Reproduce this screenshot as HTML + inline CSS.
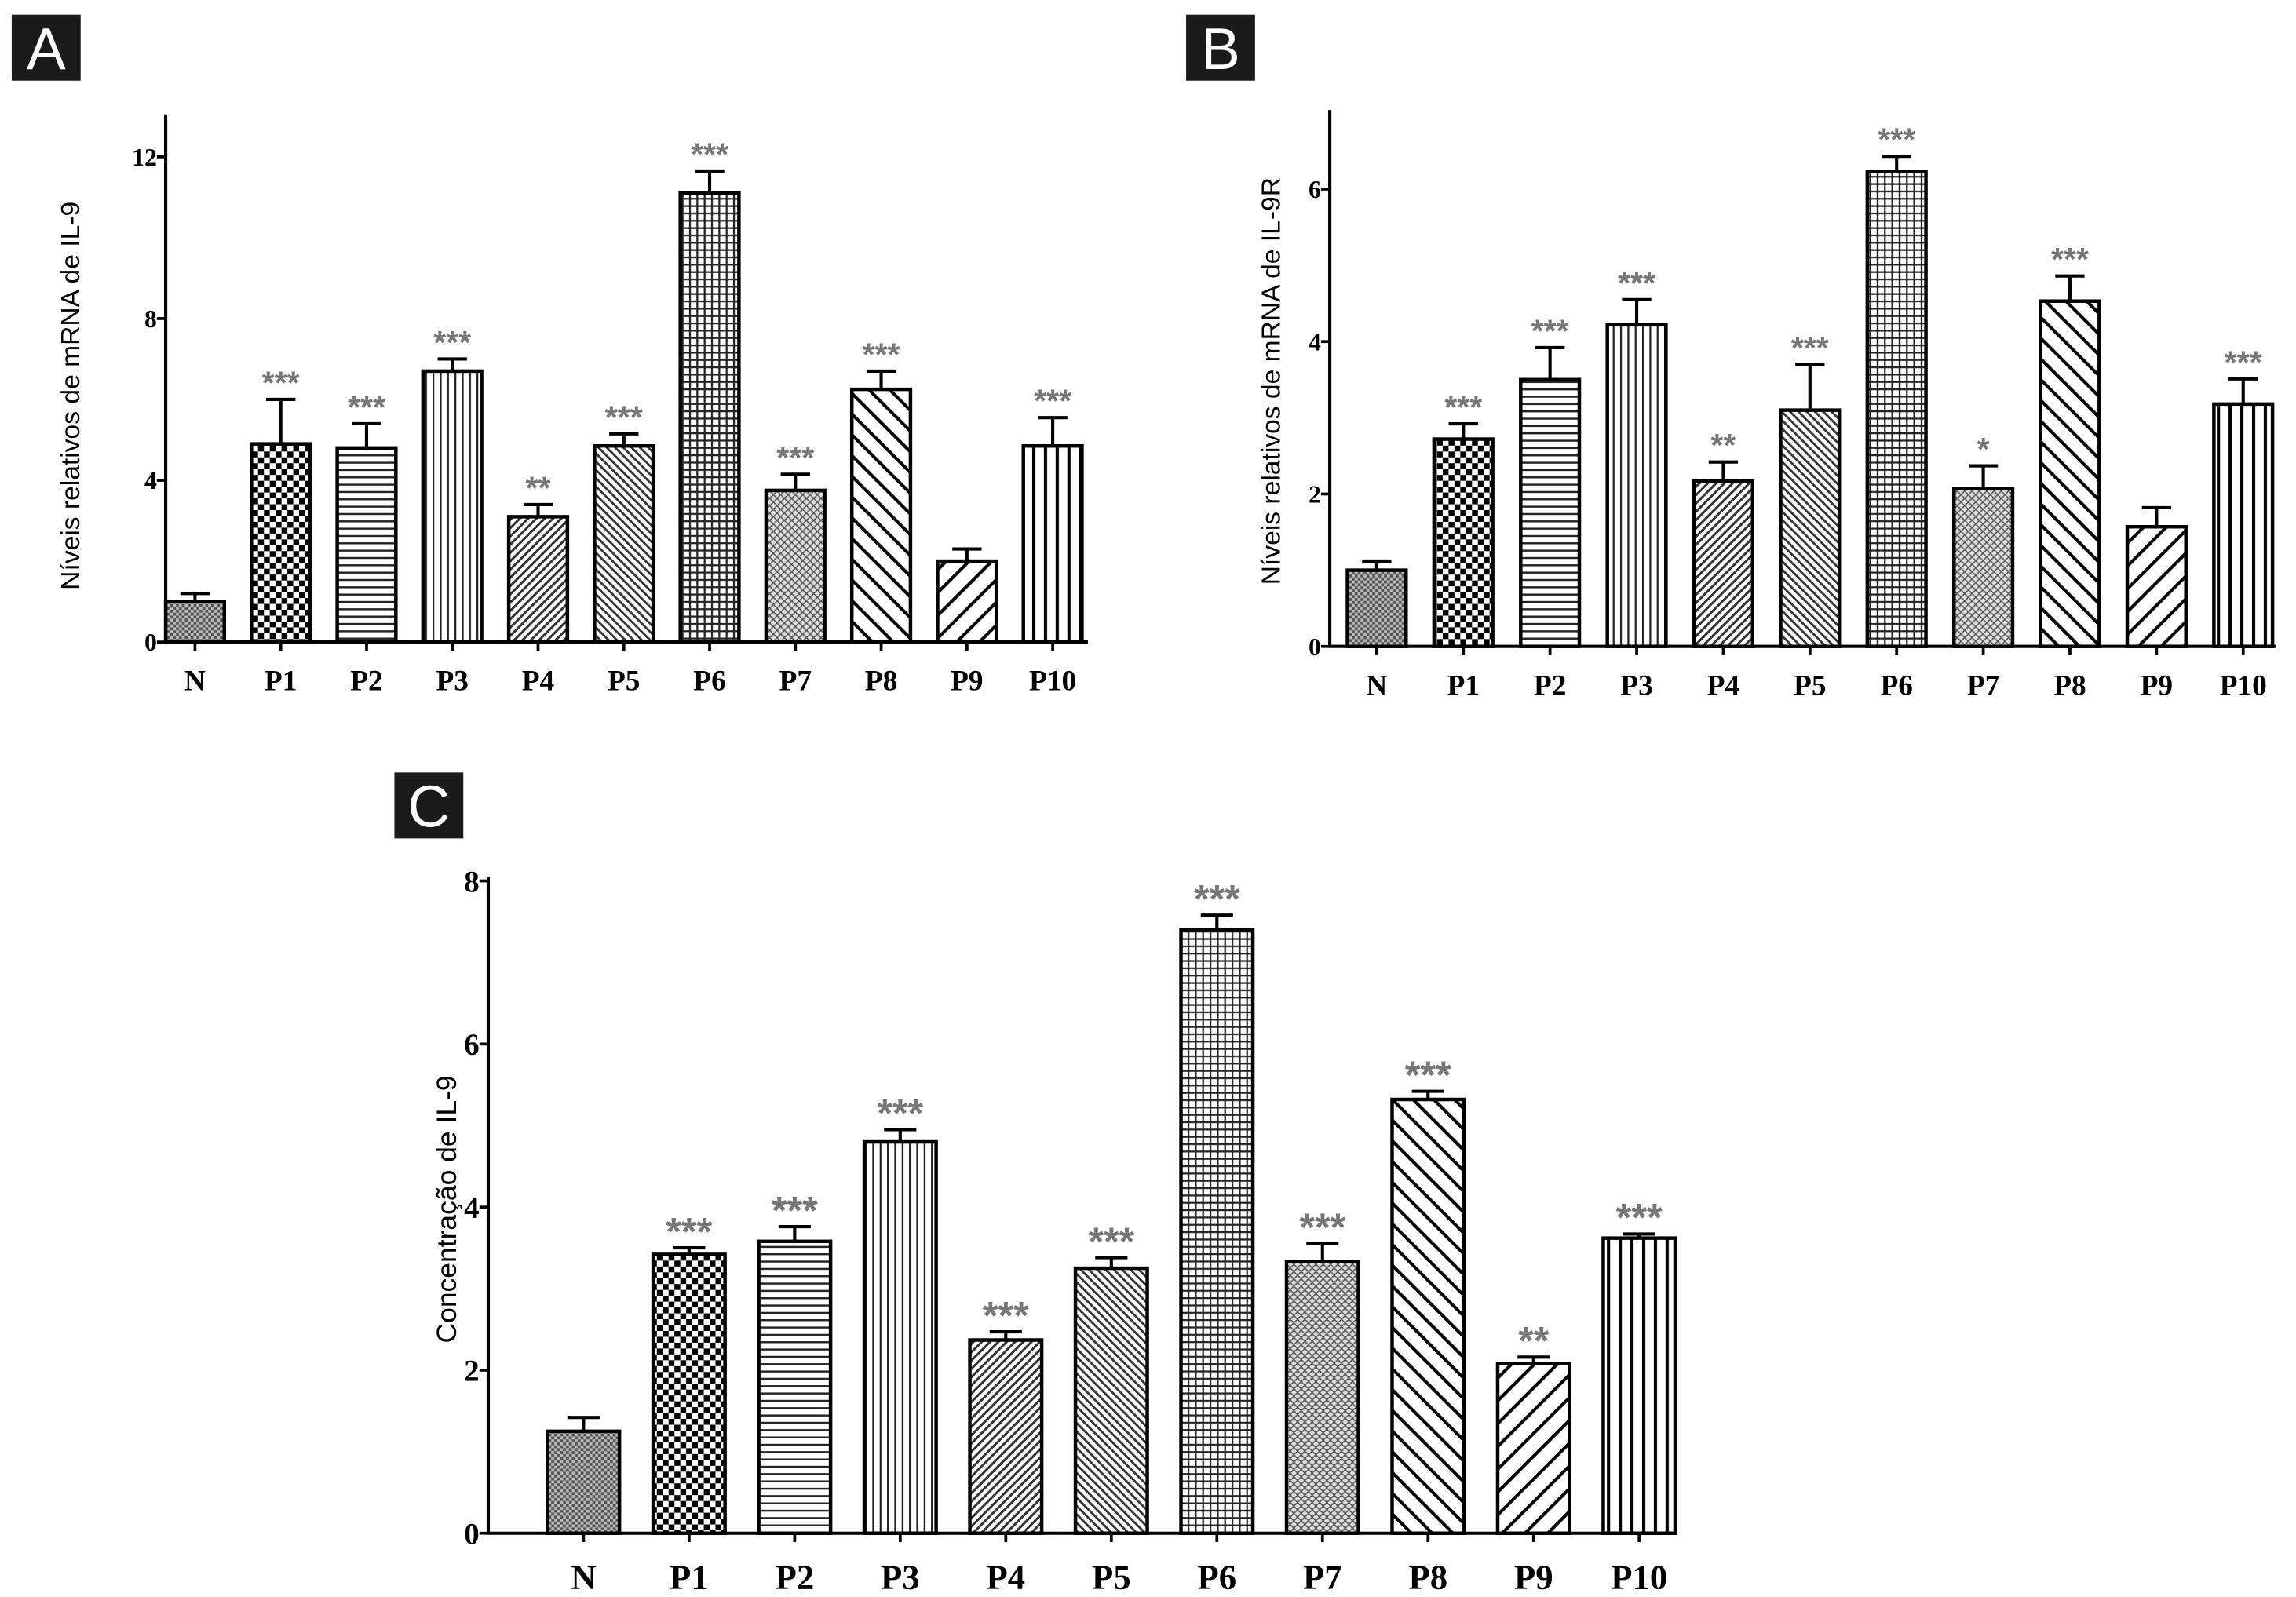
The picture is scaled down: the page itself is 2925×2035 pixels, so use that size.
<!DOCTYPE html>
<html><head><meta charset="utf-8"><style>
html,body{margin:0;padding:0;background:#fff}
svg{display:block}
</style></head><body>
<svg id="fig" xmlns="http://www.w3.org/2000/svg" width="2925" height="2035" viewBox="0 0 1566 1089.5">
<defs>
<pattern id="pN" patternUnits="userSpaceOnUse" width="4" height="4"><rect width="4" height="4" fill="#bbb"/><rect width="2" height="2" fill="#555"/><rect x="2" y="2" width="2" height="2" fill="#555"/></pattern>
<pattern id="pP1" patternUnits="userSpaceOnUse" width="8" height="8"><rect width="8" height="8" fill="#fff"/><rect width="4" height="4" fill="#000"/><rect x="4" y="4" width="4" height="4" fill="#000"/></pattern>
<pattern id="pP2" patternUnits="userSpaceOnUse" width="6" height="5"><rect width="6" height="5" fill="#fff"/><rect y="0" width="6" height="1.3" fill="#222"/></pattern>
<pattern id="pP3" patternUnits="userSpaceOnUse" width="5" height="6"><rect width="5" height="6" fill="#fff"/><rect width="1.2" height="6" fill="#222"/></pattern>
<pattern id="pP4" patternUnits="userSpaceOnUse" width="4" height="4" patternTransform="rotate(45)"><rect width="4" height="4" fill="#fff"/><rect width="1.6" height="4" fill="#333"/></pattern>
<pattern id="pP5" patternUnits="userSpaceOnUse" width="4" height="4" patternTransform="rotate(-45)"><rect width="4" height="4" fill="#fff"/><rect width="1.5" height="4" fill="#333"/></pattern>
<pattern id="pP6" patternUnits="userSpaceOnUse" width="5" height="5"><rect width="5" height="5" fill="#fff"/><rect width="5" height="1.2" fill="#222"/><rect width="1.2" height="5" fill="#222"/></pattern>
<pattern id="pP7" patternUnits="userSpaceOnUse" width="5" height="5"><rect width="5" height="5" fill="#ddd"/><path d="M0,5L5,0M0,0L5,5" stroke="#555" stroke-width="0.8"/></pattern>
<pattern id="pP8" patternUnits="userSpaceOnUse" width="10" height="10" patternTransform="rotate(-45)"><rect width="10" height="10" fill="#fff"/><rect width="2.2" height="10" fill="#000"/></pattern>
<pattern id="pP9" patternUnits="userSpaceOnUse" width="11" height="11" patternTransform="rotate(45)"><rect width="11" height="11" fill="#fff"/><rect width="2.2" height="11" fill="#000"/></pattern>
<pattern id="pP10" patternUnits="userSpaceOnUse" width="8" height="8"><rect width="8" height="8" fill="#fff"/><rect width="2.2" height="8" fill="#000"/></pattern>
</defs>
</svg>
<script>
const categories = ["N","P1","P2","P3","P4","P5","P6","P7","P8","P9","P10"];
const valuesA = [1.0,4.9,4.8,6.7,3.1,4.85,11.1,3.75,6.25,2.0,4.85];
const errorsA = [0.2,1.1,0.6,0.3,0.3,0.3,0.55,0.4,0.45,0.3,0.7];
const starsA = ["","***","***","***","**","***","***","***","***","","***"];
const ticksA = [0,4,8,12];
const valuesB = [1.0,2.72,3.5,4.22,2.17,3.1,6.23,2.07,4.53,1.57,3.18];
const errorsB = [0.12,0.2,0.42,0.33,0.25,0.6,0.2,0.3,0.33,0.25,0.33];
const starsB = ["","***","***","***","**","***","***","*","***","","***"];
const ticksB = [0,2,4,6];
const valuesC = [1.25,3.42,3.58,4.8,2.37,3.25,7.4,3.33,5.32,2.08,3.62];
const errorsC = [0.17,0.08,0.18,0.15,0.1,0.13,0.18,0.22,0.1,0.08,0.05];
const starsC = ["","***","***","***","***","***","***","***","***","**","***"];
const ticksC = [0,2,4,6,8];

const NS="http://www.w3.org/2000/svg";
const svg=document.getElementById('fig');
function mk(tag,attrs,parent){const e=document.createElementNS(NS,tag);for(const k in attrs)e.setAttribute(k,attrs[k]);(parent||svg).appendChild(e);return e;}

function panel(cfg,vals,errs,stars,ticks){
  const g=mk('g',{});
  
  
  const y=v=>cfg.y0-(v-0)*(cfg.y0-cfg.yTop)/cfg.vTop;
  const x=i=>cfg.x0+i*cfg.step;
  const lb=mk('rect',{x:cfg.lx,y:cfg.ly,width:47,height:45,fill:'#1a1a1a'},g);
  
  
  const lt=mk('text',{x:cfg.lx+23.5,y:cfg.ly+37,'text-anchor':'middle','font-family':'Liberation Sans, sans-serif','font-size':40,fill:'#fff'},g);
  lt.textContent=cfg.id;
  
  
  vals.forEach((v,i)=>{
    const cx=x(i), bw=cfg.bw;
    const eb=mk('path',{d:`M${cx},${y(v)}V${y(v+errs[i])}M${cx-cfg.cap},${y(v+errs[i])}H${cx+cfg.cap}`,stroke:'#000','stroke-width':2.2,fill:'none'},g);
    
    
    const r=mk('rect',{x:cx-bw/2,y:y(v),width:bw,height:cfg.y0-y(v),fill:'url(#p'+categories[i]+')',stroke:'#000','stroke-width':2.4},g);
    
    
    if(stars[i]){
      const s=mk('text',{x:cx,y:y(v+errs[i])+cfg.starDy,'text-anchor':'middle','font-family':'Liberation Sans, sans-serif','font-weight':'bold','font-size':cfg.starFs,fill:'#777'},g);
      s.textContent=stars[i];
      
      
    }
    const tk=mk('line',{x1:cx,x2:cx,y1:cfg.y0,y2:cfg.y0+6,stroke:'#000','stroke-width':2},g);
    
    
    const lab=mk('text',{x:cx,y:cfg.catY,'text-anchor':'middle','font-family':'Liberation Serif, serif','font-weight':'bold','font-size':cfg.catFs,fill:'#000'},g);
    lab.textContent=categories[i];
    
    
  });
  const ax=mk('path',{d:`M${cfg.ax},${cfg.axTop}V${cfg.y0}H${cfg.axRight}`,stroke:'#000','stroke-width':2.2,fill:'none'},g);
  
  
  ticks.forEach(t=>{
    const tl=mk('line',{x1:cfg.ax-6,x2:cfg.ax,y1:y(t),y2:y(t),stroke:'#000','stroke-width':2},g);
    
    
    const tt=mk('text',{x:cfg.ax-6,y:y(t)+cfg.tickFs*0.35,'text-anchor':'end','font-family':'Liberation Serif, serif','font-weight':'bold','font-size':cfg.tickFs,fill:'#000'},g);
    tt.textContent=t;
    
    
  });
  const yt=mk('text',{x:0,y:0,transform:`translate(${cfg.titleX},${cfg.titleY}) rotate(-90)`,'text-anchor':'middle','font-family':'Liberation Sans, sans-serif','font-size':cfg.titleFs,fill:'#000'},g);
  yt.textContent=cfg.title;
  
  
}

panel({id:'A',lx:8,ly:10,x0:133,step:58.5,bw:40,cap:10,y0:438,yTop:107,vTop:12,ax:113,axTop:78,axRight:742,catY:471,catFs:20,tickFs:17,starDy:-4,starFs:22,title:'Níveis relativos de mRNA de IL-9',titleX:54,titleY:270,titleFs:18},valuesA,errorsA,starsA,ticksA);
panel({id:'B',lx:809,ly:10,x0:939,step:59.1,bw:40,cap:10,y0:441,yTop:129,vTop:6,ax:907,axTop:75,axRight:1552,catY:474,catFs:20,tickFs:17,starDy:-4,starFs:22,title:'Níveis relativos de mRNA de IL-9R',titleX:873,titleY:260,titleFs:18},valuesB,errorsB,starsB,ticksB);
panel({id:'C',lx:269,ly:527,x0:398,step:72,bw:49,cap:11,y0:1046,yTop:601,vTop:8,ax:333,axTop:598,axRight:1140,catY:1084,catFs:24,tickFs:21,starDy:-2,starFs:27,title:'Concentração de IL-9',titleX:311,titleY:825,titleFs:19},valuesC,errorsC,starsC,ticksC);
</script>
</body></html>
